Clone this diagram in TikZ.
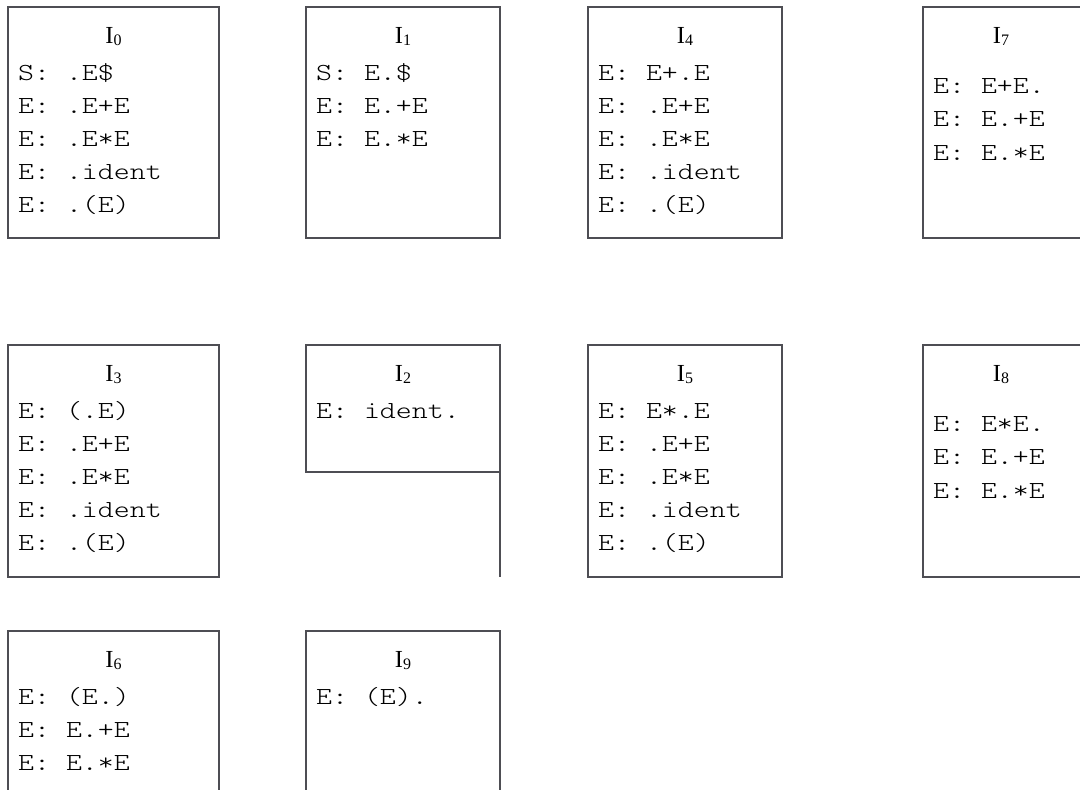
\documentclass[tikz,border=0pt]{standalone}
\usepackage{fontspec}
\setmainfont{Liberation Serif}
\newfontfamily\monof[FakeStretch=1.24]{Latin Modern Mono Light}
\definecolor{boxgray}{RGB}{78,78,84}
\newcommand\itemrows[5]{% prefix, x, first baseline, pitch, list
  \foreach \t [count=\k] in {#5} {\node[itemtxt] (#1-\k) at (#2,#3+#4*\k-#4) {\t};}}
\newcommand\ttlnum[1]{I\raisebox{-2pt}{\fontsize{16}{16}\selectfont #1}}
\begin{document}
\begin{tikzpicture}[x=1pt,y=-1pt,
  statebox/.style={draw=boxgray, line width=2pt, anchor=north west, inner sep=0pt, outer sep=0pt},
  ttl/.style={anchor=base, inner sep=0pt, font=\fontsize{24.5}{24.5}\selectfont},
  itemtxt/.style={anchor=base west, inner sep=0pt, font=\monof\fontsize{24.5}{30}\selectfont}]
\path[use as bounding box] (0,0) rectangle (1080,790);
\clip (0,0) rectangle (1080,790);
% row 1
\node[statebox, minimum width=211pt, minimum height=231pt] (b0) at (8,7) {};
\node[statebox, minimum width=194pt, minimum height=231pt] (b1) at (306,7) {};
\node[statebox, minimum width=194pt, minimum height=231pt] (b4) at (588,7) {};
\node[statebox, minimum width=160pt, minimum height=231pt] (b7) at (923,7) {};
% row 2
\node[statebox, minimum width=211pt, minimum height=232pt] (b3) at (8,345) {};
\node[statebox, minimum width=194pt, minimum height=127pt] (b2) at (306,345) {};
\coordinate (b2end) at (500,577);
\draw[draw=boxgray, line width=2pt] (b2.south east) -- (b2end);
\node[statebox, minimum width=194pt, minimum height=232pt] (b5) at (588,345) {};
\node[statebox, minimum width=160pt, minimum height=232pt] (b8) at (923,345) {};
% row 3
\node[statebox, minimum width=211pt, minimum height=220pt] (b6) at (8,631) {};
\node[statebox, minimum width=194pt, minimum height=220pt] (b9) at (306,631) {};
% titles
\node[ttl] (t0) at (113.5,43) {\ttlnum{0}};
\node[ttl] (t1) at (403,43) {\ttlnum{1}};
\node[ttl] (t4) at (685,43) {\ttlnum{4}};
\node[ttl] (t7) at (1001,43) {\ttlnum{7}};
\node[ttl] (t3) at (113.5,381) {\ttlnum{3}};
\node[ttl] (t2) at (403,381) {\ttlnum{2}};
\node[ttl] (t5) at (685,381) {\ttlnum{5}};
\node[ttl] (t8) at (1001,381) {\ttlnum{8}};
\node[ttl] (t6) at (113.5,667) {\ttlnum{6}};
\node[ttl] (t9) at (403,667) {\ttlnum{9}};
% items
\itemrows{i0}{18}{80}{33}{{S: .E\$},{E: .E+E},{E: .E*E},{E: .ident},{E: .(E)}}
\itemrows{i1}{316}{80}{33}{{S: E.\$},{E: E.+E},{E: E.*E}}
\itemrows{i4}{598}{80}{33}{{E: E+.E},{E: .E+E},{E: .E*E},{E: .ident},{E: .(E)}}
\itemrows{i7}{933}{93}{33.5}{{E: E+E.},{E: E.+E},{E: E.*E}}
\itemrows{i3}{18}{418}{33}{{E: (.E)},{E: .E+E},{E: .E*E},{E: .ident},{E: .(E)}}
\itemrows{i2}{316}{418}{33}{{E: ident.}}
\itemrows{i5}{598}{418}{33}{{E: E*.E},{E: .E+E},{E: .E*E},{E: .ident},{E: .(E)}}
\itemrows{i8}{933}{431}{33.5}{{E: E*E.},{E: E.+E},{E: E.*E}}
\itemrows{i6}{18}{704}{33}{{E: (E.)},{E: E.+E},{E: E.*E}}
\itemrows{i9}{316}{704}{33}{{E: (E).}}
\end{tikzpicture}
\end{document}
